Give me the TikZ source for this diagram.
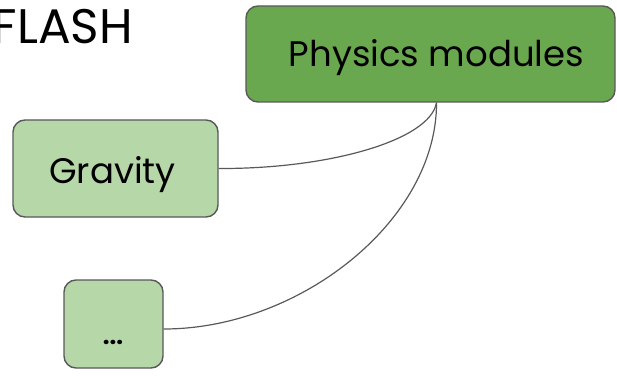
\documentclass[tikz,border=0pt]{standalone}
\usepackage{fontspec}
\setmainfont{Poppins}
\definecolor{darkG}{HTML}{6AA84F}
\definecolor{lightG}{HTML}{B6D7A8}
\definecolor{edgeG}{HTML}{595959}
\begin{document}
\begin{tikzpicture}[x=1pt,y=-1pt,
  box/.style={draw=edgeG,line width=1.4pt,rounded corners=12pt,inner sep=0pt},
  lbl/.style={font=\fontsize{35.5}{38}\selectfont,inner sep=0pt,anchor=base},
  conn/.style={draw=edgeG,line width=1.2pt}]
\useasboundingbox (0,0) rectangle (617,379);
\clip (0,0) rectangle (617,379);
\node[box,fill=darkG,minimum width=369pt,minimum height=96pt] (phys) at (430.5,54) {};
\node[lbl] (physT) at (436.5,67) {Physics modules};
\node[box,fill=lightG,minimum width=205pt,minimum height=97pt] (grav) at (115.5,168.5) {};
\node[lbl] (gravT) at (112.5,183) {Gravity};
\node[box,fill=lightG,minimum width=99pt,minimum height=88pt] (dots) at (113.5,324) {};
\node[font=\fontsize{24}{26}\selectfont\bfseries,inner sep=0pt,anchor=base] (dotsT) at (113,344) {...};
\node[font=\fontsize{48.5}{52}\selectfont,inner sep=0pt,anchor=base east] (flash) at (133,44) {FLASH};
\draw[conn] (phys.south -| physT) .. controls (430,140) and (330,169) .. (grav.east);
\draw[conn] (phys.south -| physT) .. controls (437,220) and (300,329) .. (dots.east |- 0,329);
\end{tikzpicture}
\end{document}
